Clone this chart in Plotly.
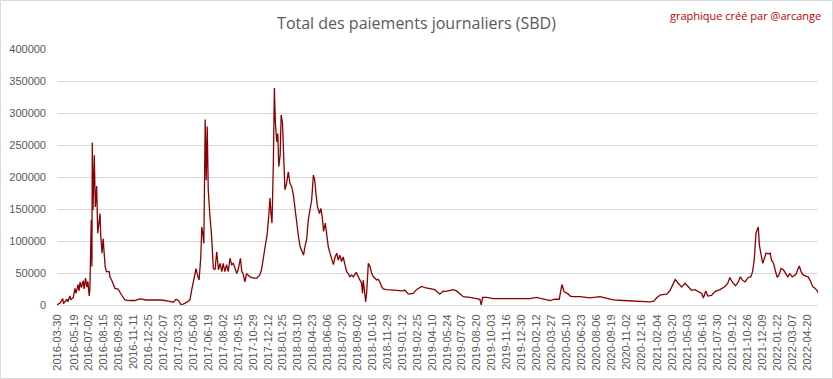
import plotly.graph_objects as go

# ---- data ----
dates = [
    "2016-03-30", "2016-03-31", "2016-04-08", "2016-04-16", "2016-04-18", "2016-04-28", "2016-05-01",
    "2016-05-07", "2016-05-10", "2016-05-17", "2016-05-22", "2016-05-25", "2016-05-31", "2016-06-03",
    "2016-06-06", "2016-06-10", "2016-06-15", "2016-06-18", "2016-06-22", "2016-06-26", "2016-06-29",
    "2016-07-03", "2016-07-05", "2016-07-07", "2016-07-09", "2016-07-11", "2016-07-12", "2016-07-14",
    "2016-07-18", "2016-07-21", "2016-07-25", "2016-07-28", "2016-08-04", "2016-08-06", "2016-08-10",
    "2016-08-13", "2016-08-16", "2016-08-19", "2016-08-23", "2016-08-31", "2016-09-02", "2016-09-07",
    "2016-09-17", "2016-09-26", "2016-10-06", "2016-10-16", "2016-10-31", "2016-11-15", "2016-11-29",
    "2016-12-19", "2017-01-08", "2017-02-02", "2017-02-26", "2017-03-08", "2017-03-16", "2017-03-23",
    "2017-03-30", "2017-04-06", "2017-04-16", "2017-04-26", "2017-05-01", "2017-05-06", "2017-05-14",
    "2017-05-18", "2017-05-23", "2017-05-28", "2017-05-31", "2017-06-03", "2017-06-06", "2017-06-10",
    "2017-06-13", "2017-06-16", "2017-06-19", "2017-06-24", "2017-06-29", "2017-07-04", "2017-07-09",
    "2017-07-14", "2017-07-19", "2017-07-24", "2017-07-29", "2017-08-02", "2017-08-07", "2017-08-12",
    "2017-08-17", "2017-08-22", "2017-08-27", "2017-09-01", "2017-09-06", "2017-09-11", "2017-09-15",
    "2017-09-22", "2017-09-26", "2017-09-30", "2017-10-05", "2017-10-10", "2017-10-20", "2017-10-30",
    "2017-11-09", "2017-11-18", "2017-11-23", "2017-12-03", "2017-12-10", "2017-12-15", "2017-12-18",
    "2017-12-21", "2017-12-24", "2017-12-28", "2017-12-31", "2018-01-03", "2018-01-07", "2018-01-10",
    "2018-01-13", "2018-01-17", "2018-01-20", "2018-01-24", "2018-01-27", "2018-01-31", "2018-02-05",
    "2018-02-10", "2018-02-15", "2018-02-20", "2018-02-25", "2018-03-02", "2018-03-07", "2018-03-12",
    "2018-03-17", "2018-03-22", "2018-03-27", "2018-03-31", "2018-04-05", "2018-04-10", "2018-04-15",
    "2018-04-20", "2018-04-25", "2018-04-29", "2018-05-03", "2018-05-07", "2018-05-13", "2018-05-17",
    "2018-05-21", "2018-05-25", "2018-05-30", "2018-06-03", "2018-06-08", "2018-06-13", "2018-06-18",
    "2018-06-23", "2018-06-28", "2018-07-03", "2018-07-07", "2018-07-12", "2018-07-17", "2018-07-22",
    "2018-07-27", "2018-08-01", "2018-08-06", "2018-08-11", "2018-08-16", "2018-08-21", "2018-08-29",
    "2018-09-04", "2018-09-09", "2018-09-14", "2018-09-17", "2018-09-19", "2018-09-22", "2018-09-26",
    "2018-09-29", "2018-10-04", "2018-10-09", "2018-10-14", "2018-10-19", "2018-10-24", "2018-10-29",
    "2018-11-02", "2018-11-07", "2018-11-12", "2018-11-17", "2018-11-27", "2018-12-12", "2018-12-27",
    "2019-01-10", "2019-01-20", "2019-01-30", "2019-02-13", "2019-02-23", "2019-03-10", "2019-03-20",
    "2019-04-04", "2019-04-18", "2019-05-03", "2019-05-13", "2019-05-18", "2019-05-28", "2019-06-11",
    "2019-06-21", "2019-07-01", "2019-07-11", "2019-07-31", "2019-08-19", "2019-08-29", "2019-09-02",
    "2019-09-06", "2019-09-18", "2019-10-07", "2019-11-16", "2019-12-25", "2020-01-24", "2020-02-12",
    "2020-02-27", "2020-03-13", "2020-03-23", "2020-04-06", "2020-04-19", "2020-04-23", "2020-04-27",
    "2020-05-03", "2020-05-16", "2020-05-21", "2020-05-31", "2020-06-19", "2020-07-18", "2020-08-17",
    "2020-09-06", "2020-09-25", "2020-10-25", "2020-12-03", "2021-01-11", "2021-01-23", "2021-02-02",
    "2021-02-12", "2021-03-02", "2021-03-12", "2021-03-19", "2021-03-27", "2021-04-05", "2021-04-15",
    "2021-04-25", "2021-05-04", "2021-05-14", "2021-05-24", "2021-06-03", "2021-06-08", "2021-06-13",
    "2021-06-18", "2021-06-25", "2021-07-01", "2021-07-12", "2021-07-22", "2021-08-06", "2021-08-21",
    "2021-08-29", "2021-09-04", "2021-09-11", "2021-09-21", "2021-09-29", "2021-10-05", "2021-10-11",
    "2021-10-19", "2021-10-28", "2021-11-05", "2021-11-10", "2021-11-15", "2021-11-20", "2021-11-24",
    "2021-11-27", "2021-11-30", "2021-12-04", "2021-12-10", "2021-12-15", "2021-12-20", "2021-12-27",
    "2022-01-01", "2022-01-05", "2022-01-11", "2022-01-17", "2022-01-22", "2022-01-27", "2022-02-02",
    "2022-02-09", "2022-02-16", "2022-02-22", "2022-02-28", "2022-03-07", "2022-03-13", "2022-03-18",
    "2022-03-23", "2022-03-28", "2022-04-02", "2022-04-08", "2022-04-16", "2022-04-23", "2022-05-01",
    "2022-05-06", "2022-05-13", "2022-05-19", "2022-05-22",
]

payments_sbd = [
    1000, 500, 3000, 10000, 2000, 9000, 5000,
    14000, 8000, 12000, 26000, 18000, 32000, 22000,
    36000, 27000, 38000, 25000, 42000, 28000, 37000,
    14000, 25000, 80000, 133000, 60000, 254000, 148000,
    234000, 153000, 186000, 112000, 143000, 107000, 81000,
    104000, 81000, 60000, 52000, 52000, 44000, 39000,
    26000, 25000, 16000, 8000, 7000, 7000, 9500,
    7800, 7800, 7800, 5500, 4300, 9000, 7000,
    1000, 1500, 4000, 8000, 23000, 36000, 57000,
    47000, 39000, 75000, 122000, 112000, 96000, 290000,
    195000, 279000, 180000, 138000, 107000, 57000, 55000,
    83000, 55000, 65000, 52000, 65000, 52000, 63000,
    52000, 73000, 63000, 65000, 55000, 49000, 55000,
    73000, 52000, 49000, 36000, 49000, 44000, 42000,
    42000, 47000, 55000, 86000, 112000, 143000, 167000,
    143000, 128000, 221000, 339000, 284000, 255000, 268000,
    216000, 234000, 297000, 284000, 247000, 180000, 190000,
    208000, 190000, 185000, 172000, 148000, 122000, 107000,
    91000, 83000, 78000, 91000, 102000, 133000, 151000,
    164000, 203000, 195000, 172000, 154000, 143000, 151000,
    138000, 115000, 128000, 112000, 91000, 81000, 70000,
    63000, 75000, 81000, 70000, 78000, 68000, 75000,
    63000, 52000, 49000, 44000, 47000, 44000, 51000,
    44000, 39000, 34000, 18000, 39000, 26000, 5000,
    18000, 65000, 60000, 49000, 44000, 42000, 39000,
    40000, 36000, 29000, 25000, 24000, 24000, 23000,
    22000, 23000, 17000, 18000, 24000, 29000, 27000,
    26000, 24000, 17000, 22000, 21000, 22000, 24000,
    22000, 18000, 13000, 12000, 10000, 9000, 0,
    12000, 12000, 10000, 10000, 10000, 10000, 12000,
    10000, 9000, 7000, 9000, 9000, 21000, 32000,
    21000, 17000, 14000, 13000, 13000, 11000, 13000,
    10000, 8000, 7000, 6000, 5000, 6000, 12000,
    16000, 17000, 23000, 30000, 40000, 34000, 28000,
    34000, 28000, 23000, 24000, 21000, 19000, 18000,
    11000, 22000, 14000, 15000, 21000, 24000, 29000,
    34000, 43000, 36000, 30000, 36000, 44000, 39000,
    36000, 43000, 44000, 52000, 70000, 112000, 118000,
    122000, 94000, 83000, 65000, 73000, 81000, 80000,
    81000, 70000, 65000, 52000, 43000, 47000, 57000,
    55000, 49000, 44000, 49000, 44000, 46000, 48000,
    55000, 61000, 52000, 47000, 45000, 44000, 36000,
    29000, 26000, 23000, 19000,
]

tick_labels = [
    "2016-03-30", "2016-05-19", "2016-07-02", "2016-08-15", "2016-09-28", "2016-11-11", "2016-12-25",
    "2017-02-07", "2017-03-23", "2017-05-06", "2017-06-19", "2017-08-02", "2017-09-15", "2017-10-29",
    "2017-12-12", "2018-01-25", "2018-03-10", "2018-04-23", "2018-06-06", "2018-07-20", "2018-09-02",
    "2018-10-16", "2018-11-29", "2019-01-12", "2019-02-25", "2019-04-10", "2019-05-24", "2019-07-07",
    "2019-08-20", "2019-10-03", "2019-11-16", "2019-12-30", "2020-02-12", "2020-03-27", "2020-05-10",
    "2020-06-23", "2020-08-06", "2020-09-19", "2020-11-02", "2020-12-16", "2021-02-04", "2021-03-20",
    "2021-05-03", "2021-06-16", "2021-07-30", "2021-09-12", "2021-10-26", "2021-12-09", "2022-01-22",
    "2022-03-07", "2022-04-20",
]

y_ticks = [0, 50000, 100000, 150000, 200000, 250000, 300000, 350000, 400000]

title_text = "Total des paiements journaliers (SBD)"
credit_text = "graphique créé par @arcange"

# ---- layout geometry ----
W, H = 833, 379
ML, MR, MT, MB = 57, 15, 49, 74
PW = W - ML - MR
PH = H - MT - MB

fig = go.Figure()
fig.add_trace(go.Scatter(
    x=dates, y=payments_sbd, mode="lines",
    line=dict(color="#8B0000", width=1.3),
    showlegend=False, hoverinfo="x+y",
))

axis_font = dict(family="Liberation Sans, Arial, sans-serif", size=11, color="#595959")

fig.update_layout(
    width=W, height=H,
    margin=dict(l=ML, r=MR, t=MT, b=MB, pad=0, autoexpand=False),
    paper_bgcolor="white", plot_bgcolor="white",
    title=dict(
        text=title_text, x=0.5, xanchor="center", xref="container",
        y=1 - 23 / H, yanchor="middle", yref="container",
        font=dict(family="Open Sans, sans-serif", size=16, color="#595959"),
    ),
    xaxis=dict(
        type="date", range=[dates[0], dates[-1]], automargin=False,
        tickmode="array", tickvals=tick_labels, ticktext=tick_labels,
        tickangle=-90, tickfont=axis_font, showgrid=False, zeroline=False,
        showline=True, linecolor="#D9D9D9", linewidth=1, ticks="",
        ticklabelstandoff=4,
    ),
    yaxis=dict(
        range=[0, 400000], tickmode="array", tickvals=y_ticks, automargin=False,
        ticktext=[str(v) for v in y_ticks], tickfont=axis_font,
        showgrid=True, gridcolor="#D9D9D9", gridwidth=1, zeroline=False,
        showline=False, ticks="", ticklabelstandoff=10,
    ),
    annotations=[dict(
        text=credit_text, xref="paper", yref="paper",
        x=(823 - ML) / PW, xanchor="right",
        y=(H - MB - 15) / PH, yanchor="middle",
        showarrow=False,
        font=dict(family="Open Sans, sans-serif", size=11, color="#C00000"),
    )],
    shapes=[dict(
        type="rect", xref="paper", yref="paper",
        x0=(0.5 - ML) / PW, x1=(832.5 - ML) / PW,
        y0=(H - MB - 378.5) / PH, y1=(H - MB - 0.5) / PH,
        line=dict(color="#D9D9D9", width=1), fillcolor="rgba(0,0,0,0)", layer="below",
    )],
)

fig.write_html(
    "out.html",
    config={"displayModeBar": False},
    post_script="document.body.style.margin='0';document.body.style.overflow='hidden';",
)
